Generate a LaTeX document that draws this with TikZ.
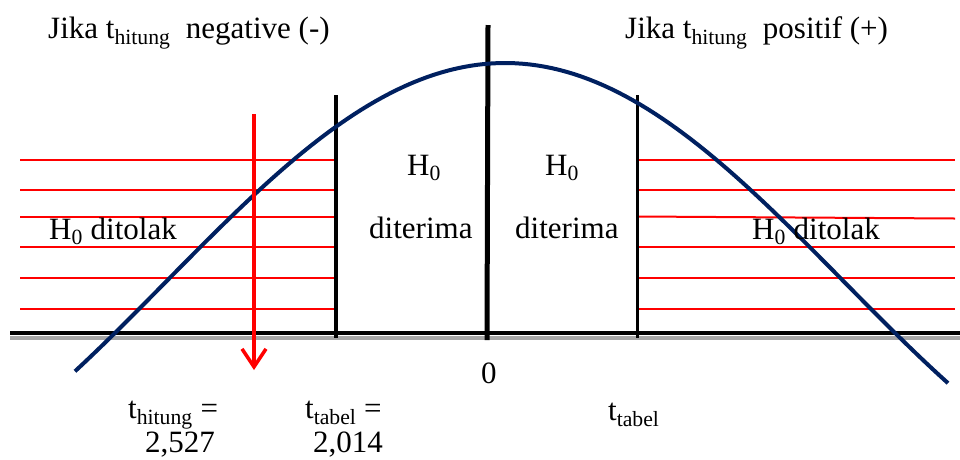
\documentclass[tikz,border=0pt]{standalone}
\usepackage{fontspec}
\setmainfont{Liberation Serif}
\usetikzlibrary{arrows.meta,calc}

\definecolor{bellblue}{RGB}{0,32,96}
\definecolor{shadowgray}{RGB}{165,165,165}

\begin{document}
\begin{tikzpicture}[
  x=1pt, y=-1pt,
  font=\fontsize{31}{37}\selectfont,
  lbl/.style={inner sep=0pt, anchor=base west},
  axisline/.style={line width=4.5pt, black},
  shade/.style={line width=4pt, shadowgray},
  bound/.style={line width=3.5pt, black},
  mid/.style={line width=5pt, black},
  zone/.style={line width=2pt, red},
  bell/.style={line width=4pt, bellblue},
  pointer/.style={line width=3.5pt, red, -{Straight Barb[length=18pt, width=24pt]}}
]
\useasboundingbox (0,0) rectangle (960,459);

% axis and boundaries
\coordinate (axis-l) at (10,333);
\coordinate (axis-r) at (960,333);
\coordinate (mid-top) at (488,25);
\coordinate (mid-bot) at (487,340);
\coordinate (left-top) at (336,95);
\coordinate (left-bot) at (336,338);
\coordinate (right-top) at (637.5,95);
\coordinate (right-bot) at (637.5,338);
\coordinate (arrow-top) at (254,114);
\coordinate (arrow-tip) at (254,370);

% rejection zones
\foreach \y in {160,189.5,217,247,278,309}
  \draw[zone] (20,\y) -- (334,\y);
\foreach \y/\z in {160/160,190/190,216.5/218.5,246.5/246.5,278/278,309/309}
  \draw[zone] (638,\y) -- (955,\z);

\draw[shade] ($(axis-l)+(0,4.5)$) -- ($(axis-r)+(0,4.5)$);
\draw[axisline] (axis-l) -- (axis-r);
\draw[bound] (left-top) -- (left-bot);
\draw[bound] (right-top) -- (right-bot);
\draw[mid] (mid-top) -- (mid-bot);

% distribution curve
\draw[bell] plot[domain=75:948, samples=120] (\x, {63+219*(1-cos(deg((\x-505)/216)))});

\draw[pointer] (arrow-top) -- (arrow-tip);

\node[lbl] (neg-title) at (48,38) {Jika t\textsubscript{hitung}\ \ negative (-)};
\node[lbl] (pos-title) at (625,38) {Jika t\textsubscript{hitung}\ \ positif (+)};
\node[lbl] (reject-l) at (49,239) {H\textsubscript{0} ditolak};
\node[lbl] (reject-r) at (752,239) {H\textsubscript{0} ditolak};
\node[lbl] (accept-l-h) at (407,175) {H\textsubscript{0}};
\node[lbl] (accept-l) at (369,238) {diterima};
\node[lbl] (accept-r-h) at (545,175) {H\textsubscript{0}};
\node[lbl] (accept-r) at (515,238) {diterima};
\node[lbl] (zero) at (481,383) {0};
\node[lbl] (hitung) at (128,418) {t\textsubscript{hitung} =};
\node[lbl] (hitung-val) at (145,452) {2,527};
\node[lbl] (tabel-l) at (305,418) {t\textsubscript{tabel} =};
\node[lbl] (tabel-l-val) at (313,452) {2,014};
\node[lbl] (tabel-r) at (608,420) {t\textsubscript{tabel}};
\end{tikzpicture}
\end{document}
